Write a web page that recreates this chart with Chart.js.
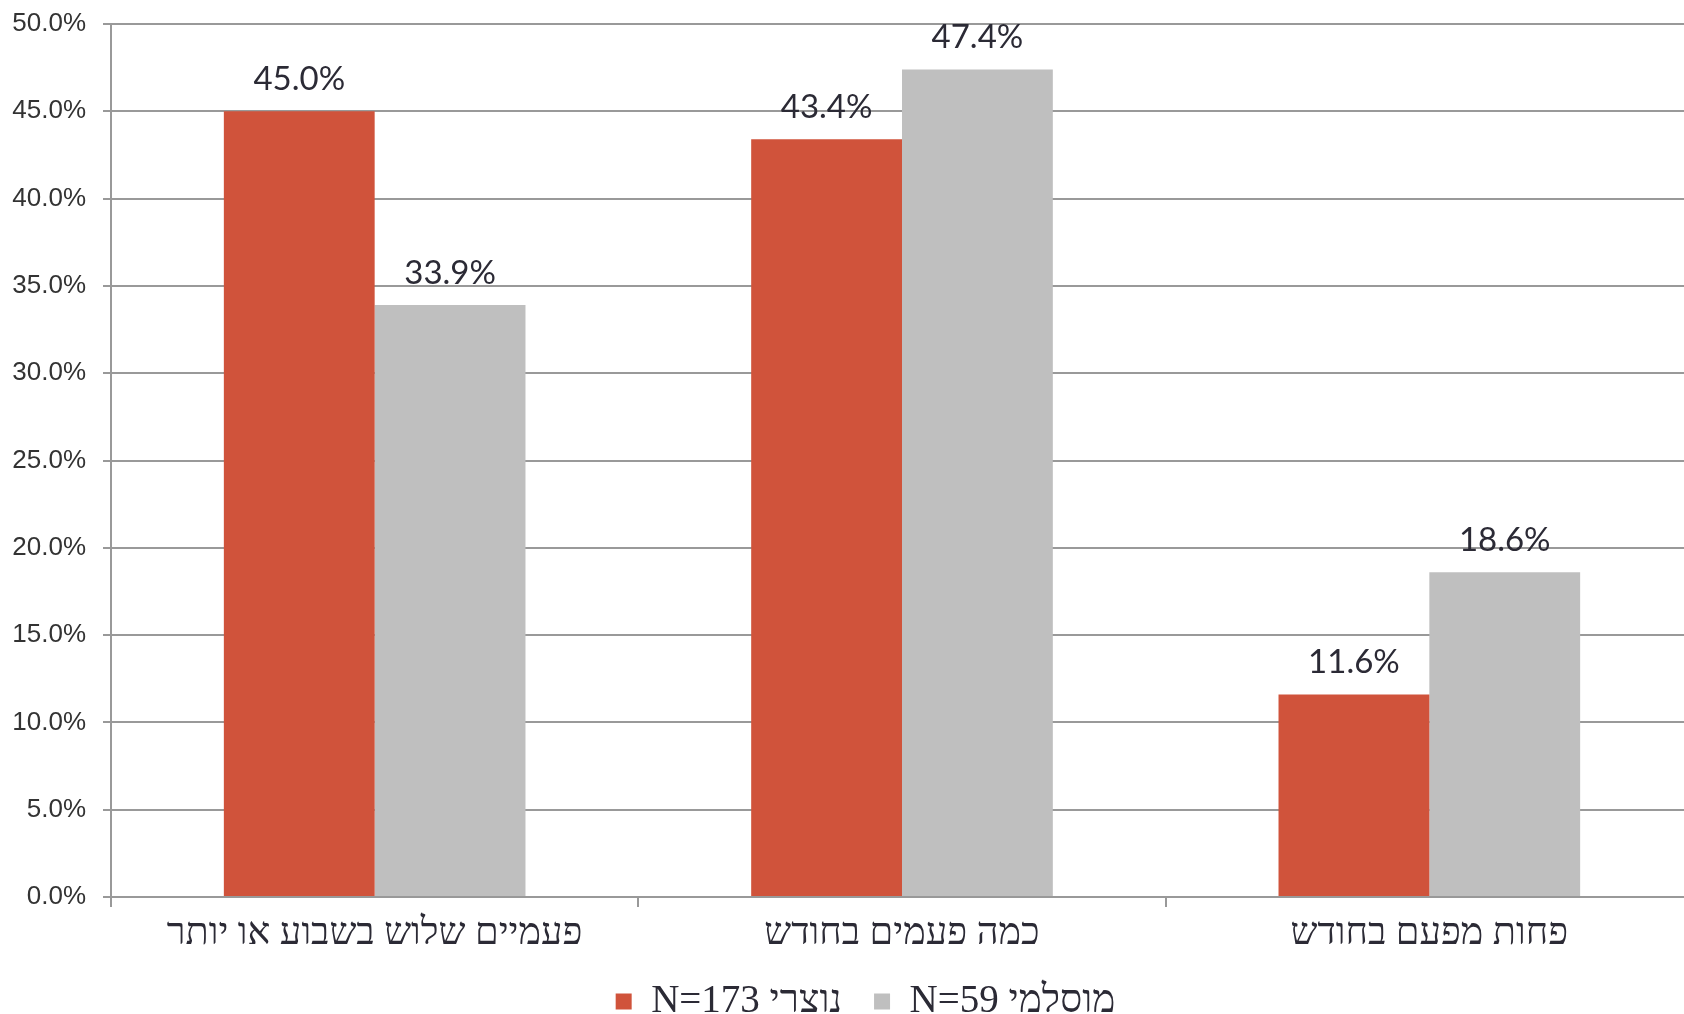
<!DOCTYPE html>
<html>
<head>
<meta charset="utf-8">
<script src="https://cdn.jsdelivr.net/npm/chart.js@4/dist/chart.umd.min.js"></script>
<style>
  html, body { margin: 0; padding: 0; background: #fff; overflow: hidden; }
  #wrap { width: 1693px; height: 1014px; }
</style>
</head>
<body>
<div id="wrap"><canvas id="chart"></canvas></div>
<script>
// נתונים
const categories = ['פעמיים שלוש בשבוע או יותר', 'כמה פעמים בחודש', 'פחות מפעם בחודש'];
const christian = [45.0, 43.4, 11.6];
const muslim = [33.9, 47.4, 18.6];
const seriesNames = ['N=173 נוצרי', 'N=59 מוסלמי'];
const yTicks = [0, 5, 10, 15, 20, 25, 30, 35, 40, 45, 50];

// תוויות ערכים מעל העמודות
const valueLabels = {
    id: 'valueLabels',
    afterLayout(chart) {
        // מקרא מוזז מעט ימינה כמו במקור
        chart.legend.left = 38;
    },
    afterDatasetsDraw(chart) {
        const ctx = chart.ctx;
        ctx.save();
        ctx.font = '33px Lato';
        ctx.fillStyle = '#2b2a35';
        ctx.textAlign = 'center';
        ctx.textBaseline = 'middle';
        chart.data.datasets.forEach((ds, i) => {
            chart.getDatasetMeta(i).data.forEach((bar, j) => {
                ctx.fillText(ds.data[j].toFixed(1) + '%', bar.x, bar.y - 32);
            });
        });
        ctx.restore();
    }
};

const ctx = document.getElementById('chart').getContext('2d');
new Chart(ctx, {
    type: 'bar',
    data: {
        labels: categories,
        datasets: [
            { label: seriesNames[0], data: christian, backgroundColor: '#d0533b' },
            { label: seriesNames[1], data: muslim, backgroundColor: '#bfbfbf' }
        ]
    },
    options: {
        responsive: true,
        maintainAspectRatio: false,
        animation: false,
        devicePixelRatio: 1,
        layout: { padding: { top: 24, left: 0, right: 0, bottom: -17 } },
        datasets: { bar: { barPercentage: 1, categoryPercentage: 0.572 } },
        scales: {
            x: {
                offset: true,
                afterFit(scale) { scale.height = 53; scale.paddingLeft = 0; scale.paddingRight = 0; },
                grid: { offset: true, drawOnChartArea: false, color: '#999', lineWidth: 2, tickLength: 10 },
                border: { color: '#999', width: 2 },
                ticks: { color: '#2b2a35', font: { family: 'Liberation Serif', size: 38 }, padding: 4 }
            },
            y: {
                min: 0,
                max: 50,
                afterFit(scale) { scale.width = 111; scale.paddingTop = 0; scale.paddingBottom = 0; },
                afterBuildTicks(scale) { scale.ticks = yTicks.map(v => ({ value: v })); },
                grid: { color: '#999', lineWidth: 2, tickLength: 8 },
                border: { color: '#999', width: 2 },
                ticks: {
                    color: '#333',
                    font: { family: 'Liberation Sans', size: 26 },
                    padding: 17,
                    callback: v => v.toFixed(1) + '%'
                }
            }
        },
        plugins: {
            legend: {
                position: 'bottom',
                labels: {
                    color: '#2b2a35',
                    font: { family: 'Liberation Serif', size: 39 },
                    boxWidth: 16,
                    boxHeight: 16,
                    padding: 32
                }
            },
            tooltip: { enabled: false }
        }
    },
    plugins: [valueLabels]
});
</script>
</body>
</html>
